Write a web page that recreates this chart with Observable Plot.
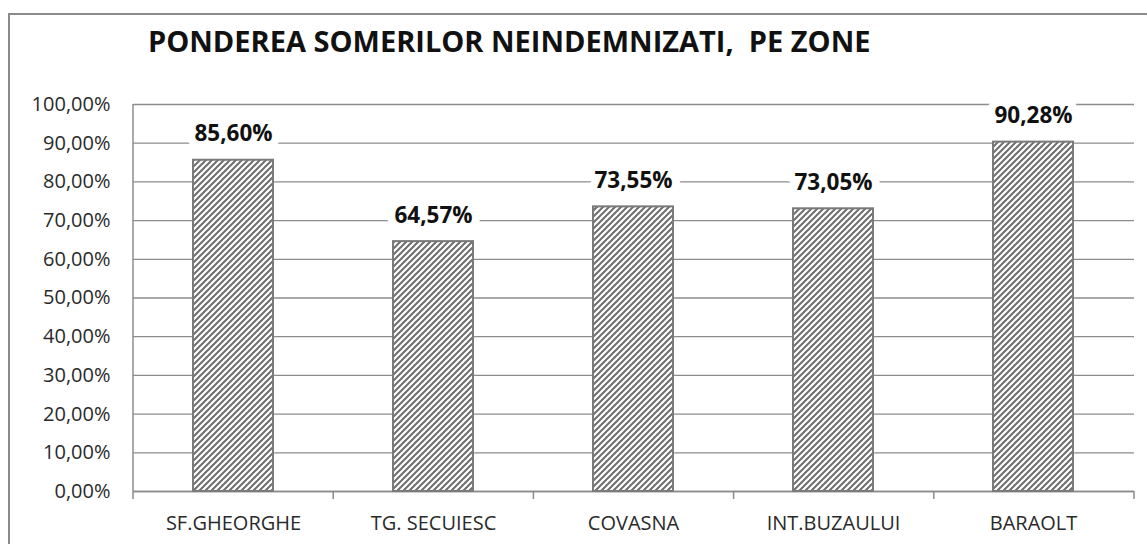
<!DOCTYPE html>
<html>
<head>
<meta charset="utf-8">
<script src="https://cdn.jsdelivr.net/npm/d3@7"></script>
<script src="https://cdn.jsdelivr.net/npm/@observablehq/plot@0.6"></script>
<style>
  html, body { margin: 0; padding: 0; background: #fff; overflow: hidden; }
  #wrap { position: relative; width: 1147px; height: 544px; }
  #frame { position: absolute; left: 8px; top: 13px; width: 1160px; height: 560px; border: 2px solid #8a8a8a; box-sizing: border-box; }
  #title { position: absolute; left: 148px; top: 21px; font-family: "Open Sans", sans-serif; font-weight: bold; font-size: 29px; line-height: normal; color: #111; white-space: pre; }
  #chart { position: absolute; left: 0; top: 0; }
</style>
</head>
<body>
<div id="wrap">
  <div id="frame"></div>
  <div id="chart"></div>
  <div id="title"></div>
</div>
<script>
const title = "PONDEREA SOMERILOR NEINDEMNIZATI,  PE ZONE";
const zones = ["SF.GHEORGHE", "TG. SECUIESC", "COVASNA", "INT.BUZAULUI", "BARAOLT"];
const shares = [0.8560, 0.6457, 0.7355, 0.7305, 0.9028];
const yTicks = [0, 0.1, 0.2, 0.3, 0.4, 0.5, 0.6, 0.7, 0.8, 0.9, 1.0];

const data = zones.map((z, i) => ({zone: z, share: shares[i]}));
const fmt = d => (d * 100).toFixed(2).replace(".", ",") + "%";

document.getElementById("title").textContent = title;

const plot = Plot.plot({
  width: 1147,
  height: 544,
  marginLeft: 133,
  marginRight: 13,
  marginTop: 104,
  marginBottom: 53,
  style: {fontFamily: "Open Sans, sans-serif", background: "transparent", overflow: "visible"},
  x: {domain: zones, paddingInner: 0.6, paddingOuter: 0.3, label: null},
  y: {domain: [0, 1], label: null},
  marks: [
    Plot.gridY(yTicks, {stroke: "#8c8c8c", strokeOpacity: 1, strokeWidth: 1.3}),
    Plot.axisY(yTicks, {tickFormat: fmt, tickSize: 7, tickPadding: 16, fontSize: 20, fill: "#2a2a2a", stroke: "none", label: null}),
    Plot.ruleY([0], {stroke: "#8c8c8c", strokeWidth: 1.5}),
    Plot.barY(data, {x: "zone", y: "share", fill: "url(#hatch)", stroke: "#7a7a7a", strokeWidth: 2}),
    Plot.text(data, {x: "zone", y: "share", text: d => fmt(d.share), dy: -26, fontSize: 22.5, fontWeight: "bold", fill: "#111", stroke: "white", strokeWidth: 16, paintOrder: "stroke"}),
    Plot.axisX({tickSize: 0, tickPadding: 24, fontSize: 20, fill: "#2a2a2a", label: null})
  ]
});

// y axis line and category separator ticks, positioned from the scales
const xs = plot.scale("x");
const ys = plot.scale("y");
const svgNS = "http://www.w3.org/2000/svg";
const g = document.createElementNS(svgNS, "g");
const y0 = ys.apply(0), y1 = ys.apply(1);
const left = xs.range[0], right = xs.range[1];
const band = (right - left) / zones.length;
const mk = (x1, x2, ya, yb) => {
  const l = document.createElementNS(svgNS, "line");
  l.setAttribute("x1", x1); l.setAttribute("x2", x2);
  l.setAttribute("y1", ya); l.setAttribute("y2", yb);
  l.setAttribute("stroke", "#8c8c8c"); l.setAttribute("stroke-width", 1.5);
  g.appendChild(l);
};
mk(left, left, y1, y0 + 8);
for (let i = 1; i <= zones.length; i++) mk(left + i * band, left + i * band, y0, y0 + 8);
plot.appendChild(g);

// hatch pattern
const defs = document.createElementNS(svgNS, "defs");
defs.innerHTML = `<pattern id="hatch" patternUnits="userSpaceOnUse" width="6" height="6">
  <rect width="6" height="6" fill="#fff"/>
  <path d="M-1,1 L1,-1 M0,6 L6,0 M5,7 L7,5" stroke="#6e6e6e" stroke-width="2"/>
</pattern>`;
plot.insertBefore(defs, plot.firstChild);

document.getElementById("chart").appendChild(plot);
</script>
</body>
</html>
